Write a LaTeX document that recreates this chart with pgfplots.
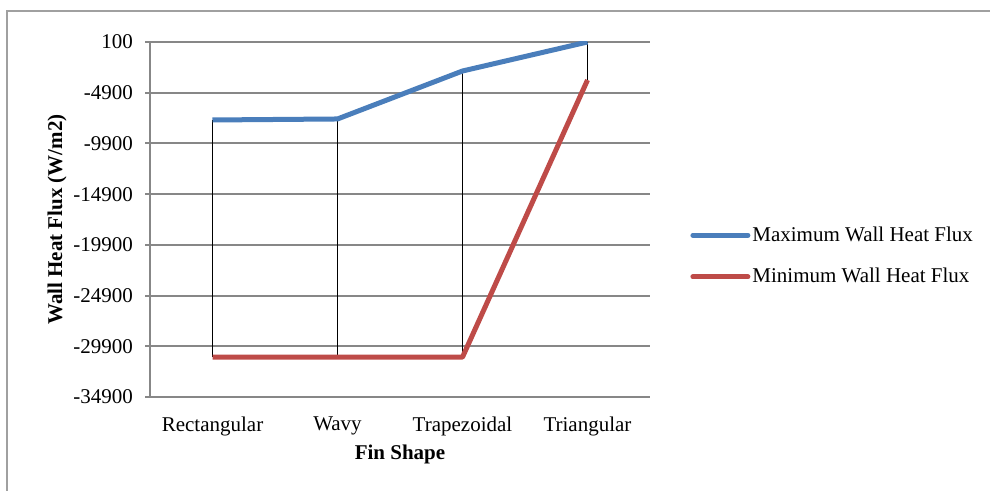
\documentclass[border=0pt]{standalone}
\usepackage{pgfplots}
\pgfplotsset{compat=1.18}
\usepackage{fontspec}
\setmainfont{Liberation Serif}

\definecolor{maxblue}{HTML}{4A7EBB}
\definecolor{minred}{HTML}{BE4B48}
\definecolor{gridgray}{HTML}{878787}
\definecolor{framegray}{HTML}{A0A0A0}

\begin{document}
\begin{tikzpicture}[font=\fontsize{10.5pt}{12.6pt}\selectfont]
% page = 990 x 491 px at 0.5pt per px
\useasboundingbox (0,0) rectangle (495pt,245.5pt);
\draw[framegray, line width=1pt] (3.5pt,0pt) -- (3.5pt,240pt) -- (495pt,240pt);
\begin{axis}[
  at={(75pt,47pt)}, anchor=south west,
  scale only axis, width=250pt, height=177.5pt,
  xmin=-0.5, xmax=3.5, ymin=-34900, ymax=100,
  axis x line*=bottom, axis y line*=left,
  axis line style={gridgray, line width=1pt, -},
  xtick={0,1,2,3},
  xticklabels={Rectangular, Wavy, Trapezoidal, Triangular},
  x tick style={draw=none},
  ytick={-34900,-29900,-24900,-19900,-14900,-9900,-4900,100},
  yticklabels={-34900,-29900,-24900,-19900,-14900,-9900,-4900,100},
  scaled y ticks=false,
  y tick style={gridgray, line width=1pt},
  tick align=outside, major tick length=2.5pt,
  ymajorgrids=true,
  grid style={gridgray, line width=1pt},
  yticklabel style={xshift=-2.5pt},
  xticklabel style={yshift=-4pt},
  xlabel={Fin Shape},
  ylabel={Wall Heat Flux (W/m2)},
  xlabel style={font=\fontsize{10.5pt}{12.6pt}\selectfont\bfseries, at={(axis description cs:0.5,-0.163)}, anchor=center},
  ylabel style={font=\fontsize{10.5pt}{12.6pt}\selectfont\bfseries, at={(axis description cs:-0.186,0.5)}, anchor=center},
  legend style={at={(axis description cs:1.08,0.397)}, anchor=west, draw=none, fill=none,
    inner sep=0pt, row sep=10pt, cells={anchor=west}, nodes={inner sep=1pt}},
  legend image code/.code={\draw[#1, line cap=round] (0pt,0pt) -- (27.5pt,0pt);},
]
% high-low lines
\addplot[black, line width=0.8pt, forget plot] coordinates {(0,-7590) (0,-30970)};
\addplot[black, line width=0.8pt, forget plot] coordinates {(1,-7490) (1,-30970)};
\addplot[black, line width=0.8pt, forget plot] coordinates {(2,-2760) (2,-30970)};
\addplot[black, line width=0.8pt, forget plot] coordinates {(3,100) (3,-3650)};
% series
\addplot[maxblue, line width=2.5pt, line join=round] coordinates {
(0,-7590) (1,-7490) (2,-2760) (3,100)
};
\addplot[minred, line width=2.5pt, line join=round] coordinates {
(0,-30970) (1,-30970) (2,-30970) (3,-3650)
};
\legend{Maximum Wall Heat Flux, Minimum Wall Heat Flux}
\end{axis}
\end{tikzpicture}
\end{document}
